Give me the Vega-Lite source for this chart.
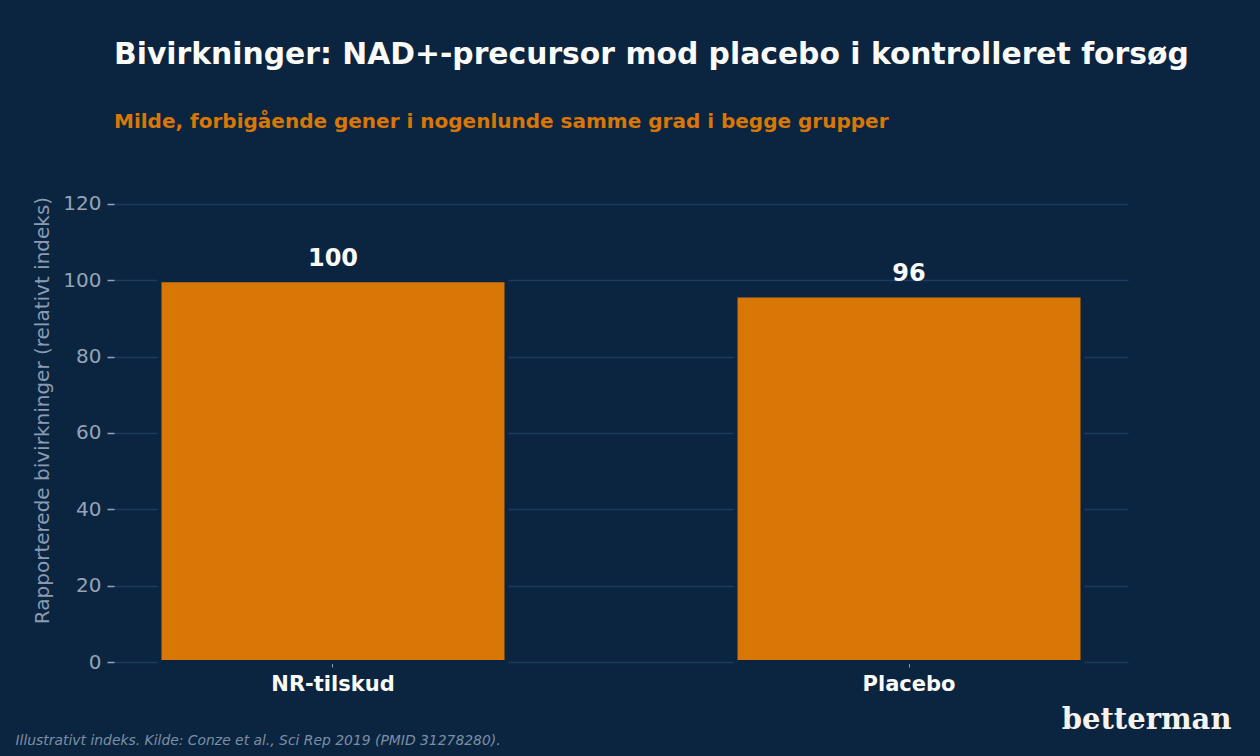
{
  "$schema": "https://vega.github.io/schema/vega-lite/v6.json",
  "width": 1014,
  "height": 504,
  "autosize": {"type": "none"},
  "padding": {"left": 114, "top": 158, "right": 132, "bottom": 94},
  "background": "#0b2540",
  "config": {
    "view": {"stroke": null},
    "font": "DejaVu Sans"
  },
  "title": {
    "text": "Bivirkninger: NAD+-precursor mod placebo i kontrolleret forsøg",
    "subtitle": "Milde, forbigående gener i nogenlunde samme grad i begge grupper",
    "anchor": "start",
    "frame": "group",
    "font": "DejaVu Sans",
    "fontSize": 29.8,
    "fontWeight": "bold",
    "color": "#fafaf7",
    "subtitleFont": "DejaVu Sans",
    "subtitleFontSize": 20,
    "subtitleFontWeight": "bold",
    "subtitleColor": "#d97706",
    "subtitlePadding": 42,
    "offset": 26
  },
  "data": {
    "values": [
      {"gruppe": "NR-tilskud", "værdi": 100},
      {"gruppe": "Placebo", "værdi": 96}
    ]
  },
  "encoding": {
    "x": {
      "field": "gruppe",
      "type": "nominal",
      "sort": null,
      "scale": {"paddingInner": 0.3976, "paddingOuter": 0.079},
      "axis": {
        "labelAngle": 0,
        "labelFont": "DejaVu Sans",
        "labelFontSize": 21,
        "labelFontWeight": "bold",
        "labelColor": "#fafaf7",
        "labelPadding": 6,
        "domain": false,
        "grid": false,
        "ticks": true,
        "tickSize": 5,
        "tickColor": "#8a9bb3",
        "tickWidth": 1,
        "title": "Illustrativt indeks. Kilde: Conze et al., Sci Rep 2019 (PMID 31278280).",
        "titleFont": "DejaVu Sans",
        "titleFontSize": 13.9,
        "titleFontStyle": "italic",
        "titleFontWeight": "normal",
        "titleColor": "#7d8fa6",
        "titleX": -99,
        "titleY": 82,
        "titleAlign": "left",
        "titleBaseline": "alphabetic"
      }
    }
  },
  "layer": [
    {
      "mark": {"type": "bar", "color": "#d97706", "stroke": "#0b2540", "strokeWidth": 4},
      "encoding": {
        "y": {
          "field": "værdi",
          "type": "quantitative",
          "scale": {"domain": [0, 132], "nice": false},
          "axis": {
            "values": [0, 20, 40, 60, 80, 100, 120],
            "title": "Rapporterede bivirkninger (relativt indeks)",
            "titleFont": "DejaVu Sans",
            "titleFontSize": 20,
            "titleFontWeight": "normal",
            "titleColor": "#8a9bb3",
            "titlePadding": 10,
            "labelFont": "DejaVu Sans",
            "labelFontSize": 20,
            "labelColor": "#94a3b8",
            "labelPadding": 6,
            "domain": false,
            "tickSize": 7,
            "tickColor": "#94a3b8",
            "tickWidth": 1.5,
            "grid": true,
            "gridColor": "#1e3a5f",
            "gridWidth": 1.5
          }
        }
      }
    },
    {
      "mark": {"type": "text", "baseline": "alphabetic", "dy": -14, "font": "DejaVu Sans", "fontSize": 24, "fontWeight": "bold", "color": "#fafaf7"},
      "encoding": {
        "y": {
          "field": "værdi",
          "type": "quantitative",
          "scale": {"domain": [0, 132], "nice": false},
          "axis": {
            "orient": "right",
            "labels": false,
            "ticks": false,
            "domain": false,
            "grid": false,
            "title": "betterman",
            "titleAngle": 0,
            "titleFont": "DejaVu Serif",
            "titleFontSize": 29,
            "titleFontWeight": "bold",
            "titleColor": "#f6f3ee",
            "titleX": 103,
            "titleY": 570,
            "titleAlign": "right",
            "titleBaseline": "alphabetic"
          }
        },
        "text": {"field": "værdi", "type": "quantitative", "format": "d"}
      }
    }
  ],
  "resolve": {"axis": {"y": "independent"}}
}
